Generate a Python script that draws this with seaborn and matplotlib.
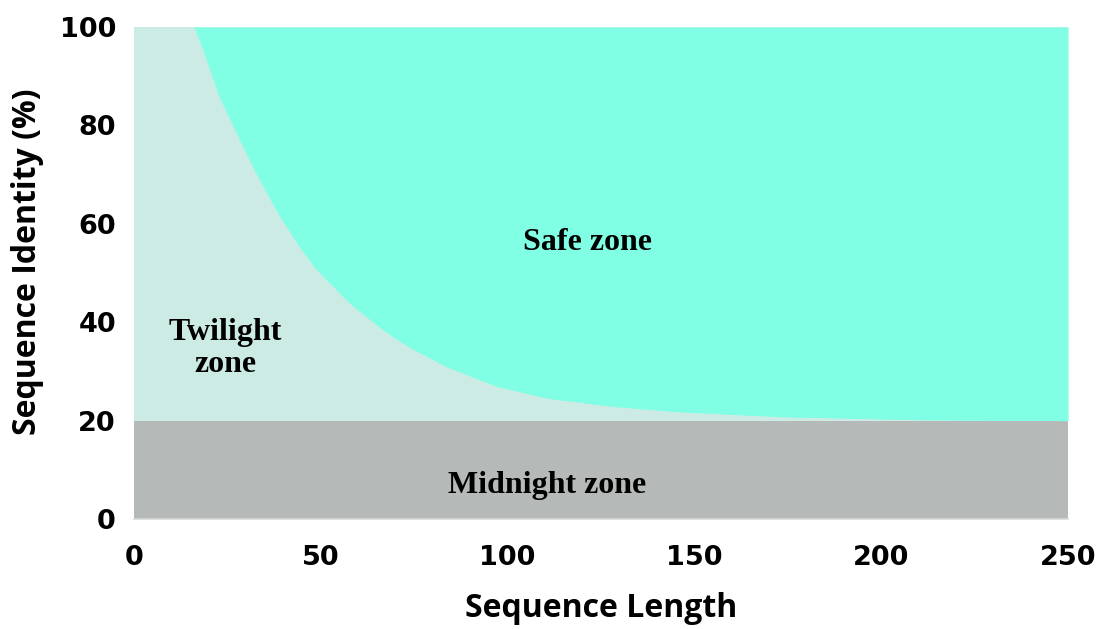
import seaborn as sns
import matplotlib.pyplot as plt
import pandas as pd

# boundary between twilight and safe zone
seq_length = [16.3, 19.2, 23.0, 30.2, 33.3, 39.1, 44.4, 48.9, 57.8, 65.8,
              70.3, 74.8, 83.7, 97.1, 110.5, 128.3, 146.1, 173.7, 209.6, 250.0]
seq_identity = [100.0, 94.2, 85.8, 74.3, 69.6, 61.6, 55.4, 50.8, 43.9, 39.0,
                36.6, 34.5, 31.0, 27.0, 24.6, 22.9, 21.8, 20.8, 20.2, 20.0]

x_range = [0, 250]
midnight_level = 20
top_level = 100

zone_labels = ["Safe zone", "Twilight\nzone", "Midnight zone"]
zone_pos = [(121.3, 56.3), (24.4, 34.6), (110.5, 6.9)]

x_ticks = [0, 50, 100, 150, 200, 250]
y_ticks = [0, 20, 40, 60, 80, 100]

safe_color = "#80ffe4"
twilight_color = "#cdebe5"
midnight_color = "#b5b9b8"

df = pd.DataFrame({"length": seq_length, "identity": seq_identity})

sns.set_style("white")
fig = plt.figure(figsize=(10.96, 6.29), dpi=100)
ax = fig.add_axes([0.1223, 0.1749, 0.8522, 0.7821])

ax.fill_between(x_range, midnight_level, top_level, color=twilight_color,
                linewidth=0)
ax.fill_between(x_range, 0, midnight_level, color=midnight_color, linewidth=0)
ax.fill_between(df["length"], df["identity"], top_level, color=safe_color,
                linewidth=0)
sns.lineplot(data=df, x="length", y="identity", color=safe_color,
             linewidth=0.8, ax=ax)

serif = {"family": "Liberation Serif", "weight": "bold", "size": 23,
         "color": "black"}
for label, (lx, ly) in zip(zone_labels, zone_pos):
    ax.text(lx, ly, label, ha="center", va="center", linespacing=1.15,
            fontdict=serif)

ax.set_xlim(x_range)
ax.set_ylim(0, top_level)
ax.set_xticks(x_ticks)
ax.set_yticks(y_ticks)
for t in ax.get_xticklabels() + ax.get_yticklabels():
    t.set_fontfamily("DejaVu Sans")
    t.set_fontweight("bold")
    t.set_fontsize(19.5)
    t.set_color("black")
ax.tick_params(axis="x", length=0, pad=19)
ax.tick_params(axis="y", length=0, pad=13)

ax.set_xlabel("Sequence Length", fontfamily="Open Sans", fontweight="bold",
              fontsize=23, labelpad=15, color="black")
ax.set_ylabel("Sequence Identity (%)", fontfamily="Open Sans",
              fontweight="bold", fontsize=23, color="black")
ax.yaxis.set_label_coords(-0.096, 0.522)

for side in ["top", "right", "left"]:
    ax.spines[side].set_visible(False)
ax.spines["bottom"].set_color("#d9d9d9")
ax.spines["bottom"].set_linewidth(1.2)

fig.savefig("out.png", dpi=100)
